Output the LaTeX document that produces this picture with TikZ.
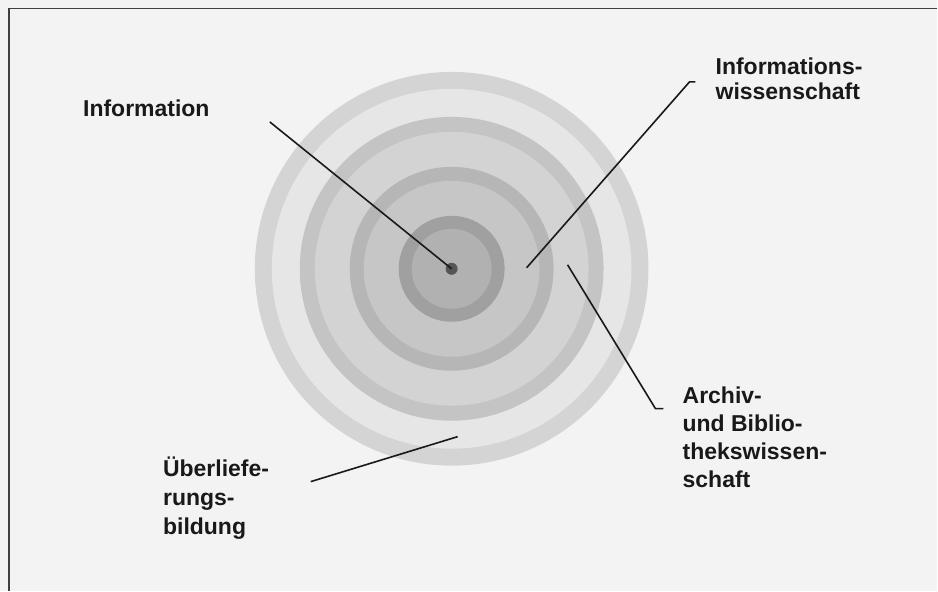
\documentclass[tikz,border=0pt]{standalone}
\usepackage{fontspec}
\setmainfont{Liberation Sans}
\definecolor{paper}{HTML}{F3F3F3}
\definecolor{ringA}{HTML}{D4D4D4}
\definecolor{fillA}{HTML}{E6E6E6}
\definecolor{ringB}{HTML}{C4C4C4}
\definecolor{fillB}{HTML}{D3D3D3}
\definecolor{ringC}{HTML}{B6B6B6}
\definecolor{fillC}{HTML}{C6C6C6}
\definecolor{ringD}{HTML}{A0A0A0}
\definecolor{fillD}{HTML}{B1B1B1}
\definecolor{core}{HTML}{555555}
\begin{document}
\begin{tikzpicture}[
    x=1pt, y=-1pt,
    label/.style={anchor=base west, inner sep=0pt, align=left, text=black!90, font=\fontsize{23}{28}\selectfont\bfseries},
    leader/.style={line width=1.6pt, black!90},
    frame/.style={line width=1.5pt, black!75},
    dot/.style={circle, fill=core, inner sep=0pt, minimum size=12pt}
]
    % Page
    \fill [paper] (0,0) rectangle (938,591);
    \draw [frame] (9,591) -- (9,8.5) -- (938,8.5);

    % Rings, outside in
    \coordinate (mid) at (452,269);
    \fill [ringA] (mid) circle (197);
    \fill [fillA] (mid) circle (180);
    \fill [ringB] (mid) circle (152);
    \fill [fillB] (mid) circle (137);
    \fill [ringC] (mid) circle (102);
    \fill [fillC] (mid) circle (88);
    \fill [ringD] (mid) circle (53);
    \fill [fillD] (mid) circle (40);
    \node [dot] (info) at (mid) {};

    % Labels (placed at the baseline of their last line)
    \node [label] (infolabel) at (83,117) {Information};
    \node [label] (iwlabel) at (716,100) {Informations-\\[-3pt]wissenschaft};
    \node [label] (ablabel) at (683,488) {Archiv-\\und Biblio-\\thekswissen-\\schaft};
    \node [label] (ueblabel) at (163,535) {Überliefe-\\[1pt]rungs-\\[1pt]bildung};

    % Leader points
    \coordinate (infostart) at (270,122);
    \coordinate (iwpt) at (527,268);
    \coordinate (iwknee) at (690,82);
    \coordinate (iwend) at (696,82);
    \coordinate (abpt) at (568,265);
    \coordinate (abknee) at (656,409);
    \coordinate (abend) at (664,409);
    \coordinate (uebpt) at (458,437);
    \coordinate (uebend) at (311,482);

    % Leaders
    \draw [leader] (infostart) -- (info.center);
    \draw [leader] (iwpt) -- (iwknee) -- (iwend);
    \draw [leader] (abpt) -- (abknee) -- (abend);
    \draw [leader] (uebpt) -- (uebend);
\end{tikzpicture}
\end{document}
